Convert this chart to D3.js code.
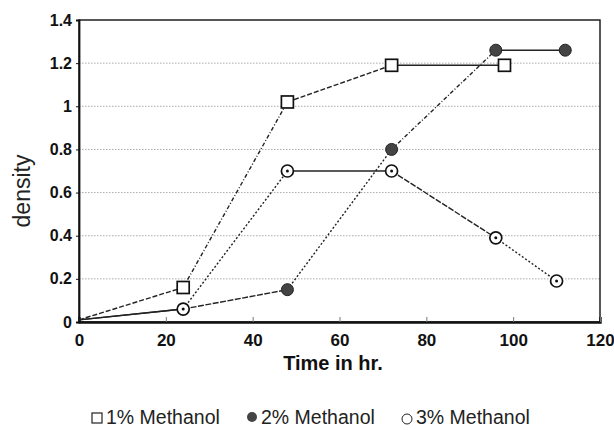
<!DOCTYPE html>
<html>
<head>
<meta charset="utf-8">
<script src="https://cdn.jsdelivr.net/npm/d3@7/dist/d3.min.js"></script>
<style>
  body { margin: 0; background: #fff; }
  svg { font-family: "Liberation Sans", Arial, sans-serif; }
</style>
</head>
<body>
<script>
// data
var hours = [0, 24, 48, 72, 98];
var meth1 = [0.01, 0.16, 1.02, 1.19, 1.19];
var hours2 = [0, 24, 48, 72, 96, 112];
var meth2 = [0.01, 0.06, 0.15, 0.80, 1.26, 1.26];
var hours3 = [0, 24, 48, 72, 96, 110];
var meth3 = [0.01, 0.06, 0.70, 0.70, 0.39, 0.19];
var xTicks = [0, 20, 40, 60, 80, 100, 120];
var yTicks = [0, 0.2, 0.4, 0.6, 0.8, 1, 1.2, 1.4];
var legendNames = ["1% Methanol", "2% Methanol", "3% Methanol"];

var W = 614, H = 430;
var m = { left: 79, right: 14, top: 20, bottom: 108 };

var svg = d3.select("body").append("svg").attr("width", W).attr("height", H);

var x = d3.scaleLinear().domain([0, 120]).range([m.left, W - m.right]);
var y = d3.scaleLinear().domain([0, 1.4]).range([H - m.bottom, m.top]);

// dotted grid
svg.append("g").selectAll("line")
  .data(yTicks.filter(function (d) { return d > 0 && d < 1.4; }))
  .join("line")
  .attr("x1", x(0)).attr("x2", x(120))
  .attr("y1", function (d) { return y(d); }).attr("y2", function (d) { return y(d); })
  .attr("stroke", "#aaa").attr("stroke-width", 1).attr("stroke-dasharray", "1.5,1.5");

// frame
svg.append("rect")
  .attr("x", x(0)).attr("y", y(1.4))
  .attr("width", x(120) - x(0)).attr("height", y(0) - y(1.4))
  .attr("fill", "none").attr("stroke", "#111").attr("stroke-width", 1.4);

// axes
var xAxis = svg.append("g").attr("transform", "translate(0," + y(0) + ")")
  .call(d3.axisBottom(x).tickValues(xTicks).tickSize(-5).tickPadding(12)
    .tickFormat(d3.format("d")));
xAxis.select(".domain").attr("stroke-width", 2.4).attr("stroke", "#111");
xAxis.selectAll(".tick line").attr("stroke", "#777");
xAxis.selectAll("text").attr("font-size", 17).attr("font-weight", "bold").attr("fill", "#111");

var yAxis = svg.append("g").attr("transform", "translate(" + x(0) + ",0)")
  .call(d3.axisLeft(y).tickValues(yTicks).tickSize(3).tickPadding(4)
    .tickFormat(function (d) { return d3.format("")(+d.toFixed(1)); }));
yAxis.select(".domain").attr("stroke-width", 1.8).attr("stroke", "#111");
yAxis.selectAll(".tick line").attr("stroke", "#111");
yAxis.selectAll("text").attr("font-size", 16).attr("font-weight", "bold").attr("fill", "#111");

// axis titles
svg.append("text")
  .attr("transform", "translate(30," + 191 + ") rotate(-90)")
  .attr("text-anchor", "middle").attr("font-size", 23).attr("fill", "#222")
  .text("density");
svg.append("text")
  .attr("x", 333).attr("y", 370)
  .attr("text-anchor", "middle").attr("font-size", 20).attr("font-weight", "bold").attr("fill", "#111")
  .text("Time in hr.");

// per-segment dash patterns as they appear on the scan
var series = [
  { t: hours, v: meth1, dash: ["5,2", "4,2,1,2", "5,2", null] },
  { t: hours2, v: meth2, dash: [null, "6,1.5", "2,2", "4,2,1,2", null] },
  { t: hours3, v: meth3, dash: [null, "2,2", null, "6,1.5", "2,2"] }
];
series.forEach(function (s) {
  var pts = d3.zip(s.t, s.v);
  svg.append("g").selectAll("line").data(d3.pairs(pts)).join("line")
    .attr("x1", function (d) { return x(d[0][0]); })
    .attr("y1", function (d) { return y(d[0][1]); })
    .attr("x2", function (d) { return x(d[1][0]); })
    .attr("y2", function (d) { return y(d[1][1]); })
    .attr("stroke", "#222").attr("stroke-width", 1.4)
    .attr("stroke-dasharray", function (d, i) { return s.dash[i]; });
});

// markers (skip the t = 0 point hidden by the axis)
var p1 = d3.zip(hours, meth1).slice(1);
var p2 = d3.zip(hours2, meth2).slice(2);
var p3 = d3.zip(hours3, meth3).slice(1);

svg.append("g").selectAll("rect").data(p1).join("rect")
  .attr("x", function (d) { return x(d[0]) - 6; })
  .attr("y", function (d) { return y(d[1]) - 6; })
  .attr("width", 12).attr("height", 12)
  .attr("fill", "#fff").attr("stroke", "#111").attr("stroke-width", 1.7);

svg.append("g").selectAll("circle").data(p2).join("circle")
  .attr("cx", function (d) { return x(d[0]); })
  .attr("cy", function (d) { return y(d[1]); })
  .attr("r", 6).attr("fill", "#444").attr("stroke", "#222").attr("stroke-width", 1);

var g3 = svg.append("g").selectAll("g").data(p3).join("g")
  .attr("transform", function (d) { return "translate(" + x(d[0]) + "," + y(d[1]) + ")"; });
g3.append("circle").attr("r", 6).attr("fill", "#fff").attr("stroke", "#111").attr("stroke-width", 1.7);
g3.append("circle").attr("r", 1.5).attr("fill", "#111");

// legend
var lg = svg.append("g").attr("transform", "translate(0,424)");
var lx = [92, 247, 402];
lg.append("rect").attr("x", lx[0]).attr("y", -11).attr("width", 10).attr("height", 10)
  .attr("fill", "#fff").attr("stroke", "#222").attr("stroke-width", 1.2);
lg.append("circle").attr("cx", lx[1] + 5).attr("cy", -7).attr("r", 5).attr("fill", "#444");
lg.append("circle").attr("cx", lx[2] + 5).attr("cy", -5).attr("r", 5)
  .attr("fill", "#fff").attr("stroke", "#222").attr("stroke-width", 1);
lg.selectAll("text").data(legendNames).join("text")
  .attr("x", function (d, i) { return lx[i] + 14; }).attr("y", 0)
  .attr("font-size", 19.5).attr("fill", "#222")
  .text(function (d) { return d; });
</script>
</body>
</html>
